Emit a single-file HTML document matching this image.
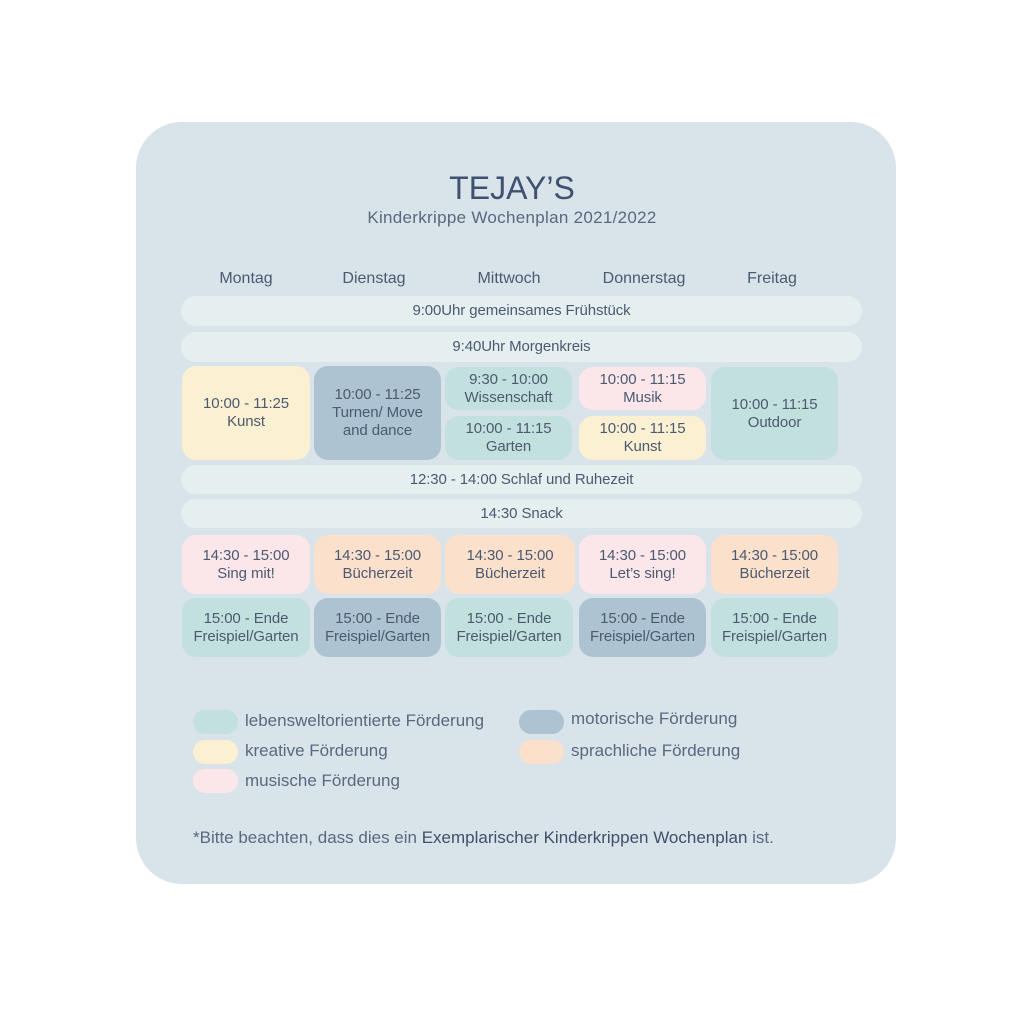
<!DOCTYPE html>
<html><head><meta charset="utf-8"><style>
body{margin:0;width:1024px;height:1024px;background:#fff;position:relative;font-family:"Liberation Sans",sans-serif;color:#4b5a70;overflow:hidden}
.card{position:absolute;left:136px;top:122px;width:760px;height:762px;background:#d9e3ea;border-radius:46px}
.b{position:absolute;display:flex;align-items:center;justify-content:center;text-align:center;font-size:15px;line-height:18px;border-radius:14px;letter-spacing:-0.1px}
.row{background:#e5eff0;border-radius:15px}
.y{background:#fcf0d3}.bl{background:#adc3d2}.t{background:#c2e0dd}.p{background:#fbe7ea}.o{background:#fbe0cc}
.t1{position:absolute;width:1024px;text-align:center}
.d{position:absolute;top:270px;width:128px;text-align:center;font-size:16px}
.sw{position:absolute;width:45px;height:24px;border-radius:12px}
.lg{position:absolute;font-size:17px;color:#5a6880;white-space:nowrap}
</style></head><body>
<div class="card"></div>
<div class="t1" style="top:170px;font-size:32px;color:#3e5270">TEJAY’S</div>
<div class="t1" style="top:208px;font-size:17px;color:#5a6880;letter-spacing:0.3px">Kinderkrippe Wochenplan 2021/2022</div>
<div class="d" style="left:182px">Montag</div>
<div class="d" style="left:310px">Dienstag</div>
<div class="d" style="left:445px">Mittwoch</div>
<div class="d" style="left:580px">Donnerstag</div>
<div class="d" style="left:708px">Freitag</div>
<div class="b row" style="left:181px;top:296px;width:681px;height:30px">9:00Uhr gemeinsames Frühstück</div>
<div class="b row" style="left:181px;top:332px;width:681px;height:30px">9:40Uhr Morgenkreis</div>
<div class="b y" style="left:182px;top:366px;width:128px;height:94px">10:00 - 11:25<br>Kunst</div>
<div class="b bl" style="left:314px;top:366px;width:127px;height:94px">10:00 - 11:25<br>Turnen/ Move<br>and dance</div>
<div class="b t" style="left:445px;top:367px;width:127px;height:43px">9:30 - 10:00<br>Wissenschaft</div>
<div class="b t" style="left:445px;top:416px;width:127px;height:44px">10:00 - 11:15<br>Garten</div>
<div class="b p" style="left:579px;top:367px;width:127px;height:43px">10:00 - 11:15<br>Musik</div>
<div class="b y" style="left:579px;top:416px;width:127px;height:44px">10:00 - 11:15<br>Kunst</div>
<div class="b t" style="left:711px;top:367px;width:127px;height:93px">10:00 - 11:15<br>Outdoor</div>
<div class="b row" style="left:181px;top:465px;width:681px;height:29px">12:30 - 14:00 Schlaf und Ruhezeit</div>
<div class="b row" style="left:181px;top:499px;width:681px;height:29px">14:30 Snack</div>
<div class="b p" style="left:182px;top:535px;width:128px;height:59px">14:30 - 15:00<br>Sing mit!</div>
<div class="b o" style="left:314px;top:535px;width:127px;height:59px">14:30 - 15:00<br>Bücherzeit</div>
<div class="b o" style="left:445px;top:535px;width:130px;height:59px">14:30 - 15:00<br>Bücherzeit</div>
<div class="b p" style="left:579px;top:535px;width:127px;height:59px">14:30 - 15:00<br>Let’s sing!</div>
<div class="b o" style="left:711px;top:535px;width:127px;height:59px">14:30 - 15:00<br>Bücherzeit</div>
<div class="b t" style="left:182px;top:598px;width:128px;height:59px">15:00 - Ende<br>Freispiel/Garten</div>
<div class="b bl" style="left:314px;top:598px;width:127px;height:59px">15:00 - Ende<br>Freispiel/Garten</div>
<div class="b t" style="left:445px;top:598px;width:128px;height:59px">15:00 - Ende<br>Freispiel/Garten</div>
<div class="b bl" style="left:579px;top:598px;width:127px;height:59px">15:00 - Ende<br>Freispiel/Garten</div>
<div class="b t" style="left:711px;top:598px;width:127px;height:59px">15:00 - Ende<br>Freispiel/Garten</div>
<div class="sw t" style="left:193px;top:710px"></div><div class="lg" style="left:245px;top:711px">lebensweltorientierte Förderung</div>
<div class="sw y" style="left:193px;top:740px"></div><div class="lg" style="left:245px;top:741px">kreative Förderung</div>
<div class="sw p" style="left:193px;top:769px"></div><div class="lg" style="left:245px;top:771px">musische Förderung</div>
<div class="sw bl" style="left:519px;top:710px"></div><div class="lg" style="left:571px;top:709px">motorische Förderung</div>
<div class="sw o" style="left:519px;top:740px"></div><div class="lg" style="left:571px;top:741px">sprachliche Förderung</div>
<div class="lg" style="left:193px;top:828px;font-size:17px">*Bitte beachten, dass dies ein <span style="color:#3e4f68">Exemplarischer Kinderkrippen Wochenplan</span> ist.</div>
</body></html>
